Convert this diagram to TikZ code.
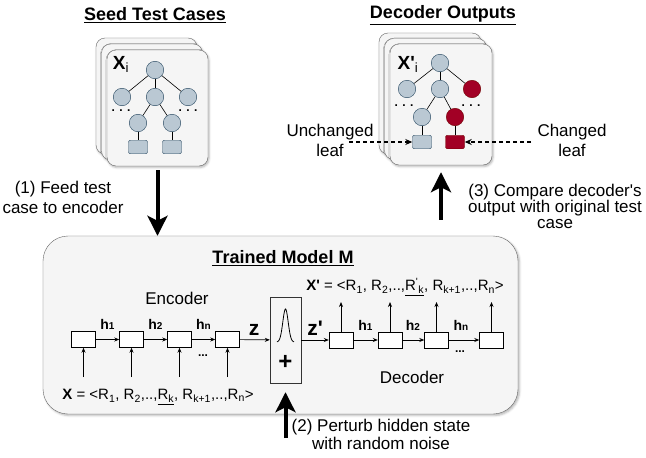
\documentclass[tikz,border=0pt]{standalone}
\usepackage{fontspec}
\setmainfont{Liberation Sans}
\usetikzlibrary{arrows.meta,shadows.blur}
\definecolor{TreeFill}{HTML}{BAC8D3}
\definecolor{TreeLine}{HTML}{23445D}
\definecolor{Changed}{HTML}{A20025}
\definecolor{ChangedLine}{HTML}{6F0000}
\definecolor{CardFill}{HTML}{F5F5F5}
\definecolor{CardLine}{HTML}{666666}
\newcommand\Fsize[1]{\fontsize{#1}{#1}\selectfont}
\newcommand\Hlab[1]{\textbf{h}{\Fsize{10}\textbf{#1}}}
\newcommand\Rsub[1]{R\textsubscript{#1}}
\begin{document}
\begin{tikzpicture}[x=1pt, y=-1pt,
                    card/.style = { draw=CardLine, fill=CardFill, rounded corners=9pt, inner sep=0pt,
                                    minimum width=101pt, minimum height=116pt,
                                    blur shadow={shadow xshift=1pt, shadow yshift=-1.5pt, shadow opacity=30, shadow blur steps=4} },
                    tnode/.style = { circle, draw=TreeLine, fill=TreeFill, minimum size=17.5pt, inner sep=0pt },
                    tleaf/.style = { rectangle, rounded corners=2pt, draw=TreeLine, fill=TreeFill,
                                     minimum width=19pt, minimum height=13.5pt, inner sep=0pt },
                    cnode/.style = { tnode, draw=ChangedLine, fill=Changed },
                    cleaf/.style = { tleaf, draw=ChangedLine, fill=Changed },
                    edge/.style = { line width=0.6pt },
                    cell/.style = { draw, fill=white, minimum width=24pt, minimum height=16pt, inner sep=0pt },
                    flow/.style = { -{Stealth[length=5pt,width=4pt]}, line width=0.7pt },
                    bigarrow/.style = { line width=4pt, -{Stealth[length=20pt,width=20pt,inset=5pt]} },
                    hint/.style = { dash pattern=on 4pt off 3pt, line width=1.2pt, -{Stealth[length=7pt,width=6pt]} },
                    title/.style = { font=\Fsize{18}\bfseries },
                    txt/.style = { font=\fontsize{17}{20}\selectfont, align=center, inner sep=0pt },
                    hlab/.style = { anchor=base, inner sep=0pt, font=\Fsize{14} },
                    dots/.style = { inner sep=0pt, font=\Fsize{12}\bfseries }]

  \useasboundingbox (0,0) rectangle (646,458);

  \node[title] (seedtitle) at (155,15) {\underline{Seed Test Cases}};
  \node[title] (outtitle) at (443,15) {\underline{Decoder Outputs}};

  \node[card] (lback) at (146.5,96) {};
  \node[card] (lmid) at (152,102) {};
  \node[card] (lfront) at (157.5,108) {};

  \node[anchor=base, inner sep=0pt] (lxi) at (121,69) {\Fsize{19}\textbf{X}\textsubscript{i}};
  \node[tnode] (lroot) at (155,70) {};
  \node[tnode] (la) at (122,97) {};
  \node[tnode] (lb) at (155,97) {};
  \node[tnode] (lc) at (188,97) {};
  \node[tnode] (ld) at (138,123) {};
  \node[tnode] (le) at (172,123) {};
  \node[tleaf] (lf) at (138,147) {};
  \node[tleaf] (lg) at (172,147) {};
  \node[dots] (ldots1) at (121,111) {. . .};
  \node[dots] (ldots2) at (188,111) {. . .};
  \draw[edge] (lroot) -- (la);
  \draw[edge] (lroot) -- (lb);
  \draw[edge] (lroot) -- (lc);
  \draw[edge] (lb) -- (ld);
  \draw[edge] (lb) -- (le);
  \draw[edge] (ld) -- (lf);
  \draw[edge] (le) -- (lg);

  \node[card, minimum width=102pt, minimum height=121pt] (rback) at (430,93.5) {};
  \node[card, minimum width=102pt, minimum height=121pt] (rmid) at (435.5,99) {};
  \node[card, minimum width=102pt, minimum height=121pt] (rfront) at (441,104.5) {};

  \node[anchor=base, inner sep=0pt] (rxi) at (408,69) {\Fsize{19}\textbf{X\textquotesingle}\textsubscript{i}};
  \node[tnode] (rroot) at (440,63) {};
  \node[tnode] (ra) at (407,89) {};
  \node[tnode] (rb) at (440,89) {};
  \node[cnode] (rc) at (472,89) {};
  \node[tnode] (rd) at (422,117) {};
  \node[cnode] (re) at (455,117) {};
  \node[tleaf] (rf) at (422,142) {};
  \node[cleaf] (rg) at (455,142) {};
  \node[dots] (rdots1) at (404,106) {. . .};
  \node[dots] (rdots2) at (471,106) {. . .};
  \draw[edge] (rroot) -- (ra);
  \draw[edge] (rroot) -- (rb);
  \draw[edge] (rroot) -- (rc);
  \draw[edge] (rb) -- (rd);
  \draw[edge] (rb) -- (re);
  \draw[edge] (rd) -- (rf);
  \draw[edge] (re) -- (rg);

  \node[txt] (unchanged) at (330,140) {Unchanged\\leaf};
  \node[txt] (changed) at (572,140) {Changed\\leaf};
  \coordinate (uctail) at (349,142);
  \coordinate (ctail) at (531,142);
  \draw[hint] (uctail) -- (rf);
  \draw[hint] (ctail) -- (rg);

  \node[draw=CardLine, fill=CardFill, rounded corners=25pt, minimum width=475pt, minimum height=178pt,
        blur shadow={shadow xshift=1.5pt, shadow yshift=-1.5pt, shadow opacity=30, shadow blur steps=4}]
        (model) at (280.5,325) {};
  \node[title] (modeltitle) at (283,258) {\underline{Trained Model M}};

  \node[txt] (feed) at (63,197) {(1) Feed test\\case to encoder};
  \draw[bigarrow, shorten <=4pt] (lfront.south) -- (lfront.south |- model.north);

  \node[txt, font=\fontsize{17}{16}\selectfont] (compare) at (555,206) {(3) Compare decoder\textquotesingle s\\output with original test\\case};
  \draw[bigarrow, shorten <=16pt, shorten >=7pt] (rfront.south |- model.north) -- (rfront.south);

  \node[txt] (encname) at (177,298) {Encoder};
  \node[txt] (decname) at (412,377) {Decoder};

  \node[cell] (enc1) at (83.5,339.5) {};
  \node[cell] (enc2) at (131.5,339.5) {};
  \node[cell] (enc3) at (179.5,339.5) {};
  \node[cell] (enc4) at (227.5,339.5) {};
  \node[draw=black!80, fill=CardFill, minimum width=31pt, minimum height=86pt, inner sep=0pt] (gauss) at (285.5,340) {};
  \node[cell] (dec1) at (341,340) {};
  \node[cell] (dec2) at (390,340) {};
  \node[cell] (dec3) at (436.5,340) {};
  \node[cell] (dec4) at (491.5,340) {};

  \draw[line width=0.8pt] plot[domain=-1:1, samples=41, smooth] ({285.5+8.5*\x},{342-33*exp(-5*\x*\x)});
  \node[inner sep=0pt, font=\Fsize{24}\bfseries] (plus) at (285.5,362) {+};

  \draw[flow] (enc1) -- (enc2);
  \draw[flow] (enc2) -- (enc3);
  \draw[flow] (enc3) -- (enc4);
  \draw[flow] (enc4) -- (gauss);
  \draw[flow] (gauss) -- (dec1);
  \draw[flow] (dec1) -- (dec2);
  \draw[flow] (dec2) -- (dec3);
  \draw[flow] (dec3) -- (dec4);

  \node[hlab] (eh1) at (107.5,329) {\Hlab{1}};
  \node[hlab] (eh2) at (155.5,329) {\Hlab{2}};
  \node[hlab] (ehn) at (203.5,329) {\Hlab{n}};
  \node[hlab, font=\Fsize{21}\bfseries] (zlab) at (254,335) {z};
  \node[hlab, font=\Fsize{21}\bfseries] (zplab) at (315,335) {z\textquotesingle};
  \node[hlab] (dh1) at (365.5,330) {\Hlab{1}};
  \node[hlab] (dh2) at (413,330) {\Hlab{2}};
  \node[hlab] (dhn) at (461,330) {\Hlab{n}};
  \node[dots] (edots) at (203,356) {...};
  \node[dots] (ddots) at (460,352) {...};

  \coordinate (ein1) at (83.5,377);
  \coordinate (ein2) at (131.5,377);
  \coordinate (ein3) at (179.5,377);
  \coordinate (ein4) at (227.5,377);
  \draw[flow] (ein1) -- (enc1);
  \draw[flow] (ein2) -- (enc2);
  \draw[flow] (ein3) -- (enc3);
  \draw[flow] (ein4) -- (enc4);

  \coordinate (dout1) at (341,302);
  \coordinate (dout2) at (390,302);
  \coordinate (dout3) at (436.5,302);
  \coordinate (dout4) at (491.5,302);
  \draw[flow] (dec1) -- (dout1);
  \draw[flow] (dec2) -- (dout2);
  \draw[flow] (dec3) -- (dout3);
  \draw[flow] (dec4) -- (dout4);

  \node[inner sep=0pt, font=\Fsize{15}] (xseq) at (158,397)
    {\textbf{X} = <\Rsub{1}, \Rsub{2},..,\underline{\Rsub{k}}, \Rsub{k+1},..,\Rsub{n}>};
  \node[inner sep=0pt, font=\Fsize{15}] (xpseq) at (405,287)
    {\textbf{X\textquotesingle} = <\Rsub{1}, \Rsub{2},..,\underline{R\textsuperscript{\textquotesingle}\textsubscript{k}}, \Rsub{k+1},..,\Rsub{n}>};

  \coordinate (noise) at (285.5,438);
  \draw[bigarrow, shorten >=9pt] (noise) -- (gauss.south);
  \node[txt, font=\fontsize{17}{18}\selectfont] (perturb) at (381,434) {(2) Perturb hidden state\\with random noise};
\end{tikzpicture}
\end{document}
